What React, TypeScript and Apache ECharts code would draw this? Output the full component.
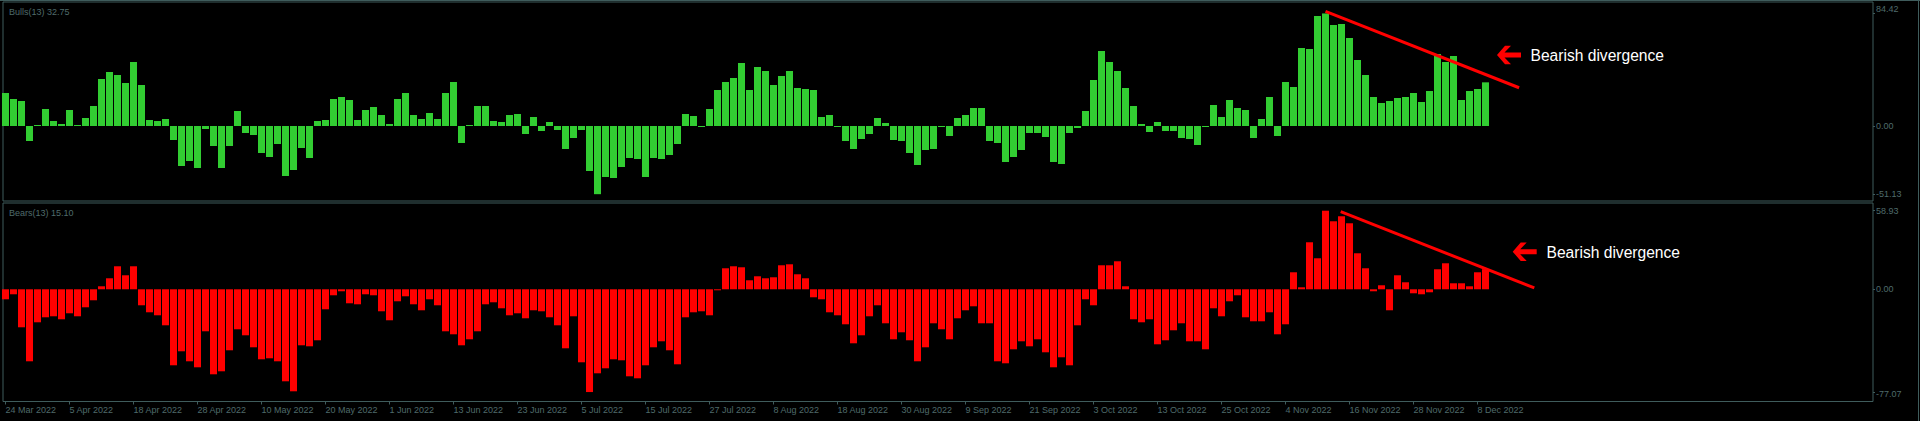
import { useEffect, useRef } from "react";
import * as echarts from "echarts";

// Bulls Power (13) values, one per trading day
const bulls = [
  24.75, 20.25, 18.75, -11.25, 0.75, 12.75, 3.75, 1.5, 12, 0.75,
  6, 15, 35.25, 40.5, 38.25, 32.25, 48, 30.75, 4.5, 3.75,
  5.25, -10.5, -30, -26.25, -31.5, -2.25, -15, -31.5, -15, 11.25,
  -5.25, -6.75, -20.25, -23.25, -13.5, -37.5, -33, -16.5, -24, 3.75,
  4.5, 20.25, 21.75, 19.5, 4.5, 12, 14.25, 8.25, 1.5, 20.25,
  24.75, 8.25, 5.25, 9.75, 5.25, 24.75, 33, -12.75, 0.75, 15,
  15, 3.75, 3, 8.25, 9, -6, 6.75, -3.75, 3, -3,
  -17.25, -9, -3, -33.75, -51.13, -38.25, -39, -30.75, -24, -24.75,
  -38.25, -24, -24.75, -21.75, -13.5, 9, 7.5, -0.75, 12.75, 27,
  33, 36, 47.25, 27, 44.25, 41.25, 30.75, 37.5, 41.25, 28.5,
  27.75, 27, 6.75, 8.25, -0.75, -11.25, -17.25, -9.75, -6, 6,
  2.25, -10.5, -11.25, -20.25, -29.25, -18, -17.25, -0.75, -7.5, 6,
  8.25, 13.5, 13.5, -11.25, -12.75, -27, -23.25, -18, -5.25, -5.25,
  -8.25, -27, -28.5, -5.25, -1.5, 11.25, 34.5, 56.25, 48, 41.25,
  28.5, 15, 1.5, -4.5, 3, -3.75, -3.75, -9, -9.75, -14.25,
  -0.75, 15.75, 6.75, 19.5, 13.5, 12, -9, 5.25, 21.75, -7.5,
  33, 29.25, 58.5, 57.75, 82.5, 84.42, 75.75, 76.5, 66, 49.5,
  38.25, 21.75, 17.25, 18.75, 21, 21.75, 24.75, 18, 26.25, 54,
  48, 52.5, 19.5, 26.25, 27.75, 32.75,
];

// Bears Power (13) values, one per trading day
const bears = [
  -7.5, -3.75, -28.5, -54, -24.75, -21, -20.25, -22.5, -18, -20.25,
  -13.5, -8.25, 2.25, 8.25, 17.25, 10.5, 17.25, -12, -17.25, -19.5,
  -27, -57, -46.5, -54, -58.5, -31.5, -63.75, -61.5, -45.75, -30,
  -34.5, -43.5, -52.5, -51.75, -54, -69, -76.5, -42, -42.75, -38.25,
  -15, -4.5, -1.5, -10.5, -11.25, -3.75, -4.5, -16.5, -23.25, -9,
  -5.25, -11.25, -15.75, -7.5, -12, -31.5, -33.75, -42, -37.5, -31.5,
  -11.25, -9.75, -14.25, -19.5, -18, -21.75, -15.75, -16.5, -21, -27,
  -44.25, -20.25, -54.75, -77.07, -63, -59.25, -52.5, -53.25, -65.25, -66.75,
  -57, -43.5, -39, -45.75, -56.25, -21, -17.25, -16.5, -19.5, -0.75,
  15.75, 17.25, 16.5, 6.75, 9.75, 8.25, 9, 18, 18.75, 11.25,
  8.25, -6, -7.5, -17.25, -19.5, -26.25, -40.5, -34.5, -20.25, -12,
  -25.5, -37.5, -32.25, -38.25, -54, -43.5, -25.5, -30, -37.5, -21.75,
  -15.75, -12.75, -25.5, -25.5, -54, -55.5, -45, -39, -42.75, -37.5,
  -47.25, -58.5, -51, -57, -27, -7.5, -12, 18, 18, 21,
  2.25, -22.5, -24.75, -22.5, -41.25, -38.25, -30.75, -25.5, -39, -39,
  -45, -14.25, -20.25, -9, -4.5, -21, -24, -24, -17.25, -33.75,
  -26.25, 12.75, 1.5, 35.25, 23.25, 58.93, 51, 54.75, 49.5, 27,
  15.75, -1.5, 3, -15.75, 10.5, 5.25, -3, -3.75, -2.25, 15,
  19.5, 4.5, 4.5, 2.25, 12.75, 15.1,
];

// Date labels, one every 8 bars starting at bar 0
const tickLabels = [
  "24 Mar 2022", "5 Apr 2022", "18 Apr 2022", "28 Apr 2022", "10 May 2022",
  "20 May 2022", "1 Jun 2022", "13 Jun 2022", "23 Jun 2022", "5 Jul 2022",
  "15 Jul 2022", "27 Jul 2022", "8 Aug 2022", "18 Aug 2022", "30 Aug 2022",
  "9 Sep 2022", "21 Sep 2022", "3 Oct 2022", "13 Oct 2022", "25 Oct 2022",
  "4 Nov 2022", "16 Nov 2022", "28 Nov 2022", "8 Dec 2022",
];
const tickEvery = 8;

const bullsScale = [84.42, 0, -51.13];
const bearsScale = [58.93, 0, -77.07];
const bullsTitle = "Bulls(13) 32.75";
const bearsTitle = "Bears(13) 15.10";
const annotationText = "Bearish divergence";

// Divergence trend lines (bar index, value)
const bullsTrend = [[165, 86], [189.2, 28.7]];
const bearsTrend = [[166.9, 58.2], [191.1, 1.0]];

const FONT = "'Liberation Sans', Arial, sans-serif";
const TXT = "#4f6b6b";
const LINE = "#3f5c5c";

function arrow(x: number, y: number) {
  return {
    type: "polygon",
    x,
    y,
    silent: true,
    shape: {
      points: [
        [0, 9.25], [8, 0], [14, 0], [7.5, 6.75], [24, 6.75],
        [24, 11.75], [7.5, 11.75], [14, 18.5], [8, 18.5],
      ],
    },
    style: { fill: "#ff0000" },
  };
}

export default function App() {
  const ref = useRef<HTMLDivElement>(null);

  useEffect(() => {
    document.body.style.margin = "0";
    document.body.style.background = "#000";
    const chart = echarts.init(ref.current!, null, { renderer: "svg" });

    const tickPositions = tickLabels.map((_, i) => i * tickEvery);
    const xMin = -0.3125;
    const xMax = 233.4375;

    const yLabelFmt = (scale: number[]) => (v: number) => {
      const s = v.toFixed(2);
      if (Math.abs(v - scale[0]) < 1e-6 && scale === bullsScale) return `{up|${s}}`;
      if (Math.abs(v - scale[2]) < 1e-6 && scale === bearsScale) return `{dn|${s}}`;
      return s;
    };
    const rich = {
      up: { padding: [0, 0, 8, 0], color: TXT, fontSize: 9, fontFamily: FONT },
      dn: { padding: [4, 0, 0, 0], color: TXT, fontSize: 9, fontFamily: FONT },
    };

    const yAxisBase = (gridIndex: number, min: number, max: number, scale: number[]) => ({
      type: "value",
      gridIndex,
      position: "right",
      min,
      max,
      axisLine: { show: false, onZero: false },
      splitLine: { show: false },
      axisTick: {
        show: true,
        customValues: scale,
        length: 2,
        lineStyle: { color: LINE },
      },
      axisLabel: {
        customValues: scale,
        formatter: yLabelFmt(scale),
        color: TXT,
        fontSize: 9,
        fontFamily: FONT,
        margin: 3,
        rich,
      },
    });

    const trendLine = (pts: number[][]) => ({
      symbol: ["none", "none"],
      silent: true,
      label: { show: false },
      lineStyle: { color: "#ff0000", width: 3, type: "solid" },
      data: [[{ coord: pts[0] }, { coord: pts[1] }]],
    });

    chart.setOption({
      animation: false,
      backgroundColor: "#000000",
      grid: [
        { left: 3, top: 2, width: 1870, height: 199, show: true, borderColor: LINE, borderWidth: 1 },
        { left: 3, top: 203, width: 1870, height: 198.5, show: true, borderColor: LINE, borderWidth: 1 },
      ],
      xAxis: [
        {
          type: "value",
          gridIndex: 0,
          min: xMin,
          max: xMax,
          show: false,
          axisLine: { show: false, onZero: false },
        },
        {
          type: "value",
          gridIndex: 1,
          min: xMin,
          max: xMax,
          position: "bottom",
          axisLine: { show: false, onZero: false },
          splitLine: { show: false },
          axisTick: {
            show: true,
            customValues: tickPositions,
            length: 3,
            lineStyle: { color: LINE },
          },
          axisLabel: {
            customValues: tickPositions,
            formatter: (v: number) => tickLabels[Math.round(v / tickEvery)] ?? "",
            color: TXT,
            fontSize: 9,
            fontFamily: FONT,
            align: "left",
            margin: 4,
          },
        },
      ],
      yAxis: [
        yAxisBase(0, -56.25, 93, bullsScale),
        yAxisBase(1, -84.15, 64.7, bearsScale),
      ],
      series: [
        {
          type: "bar",
          xAxisIndex: 0,
          yAxisIndex: 0,
          barWidth: 7,
          data: bulls.map((v, i) => [i, v]),
          itemStyle: { color: "#32cd32" },
          markLine: trendLine(bullsTrend),
        },
        {
          type: "bar",
          xAxisIndex: 1,
          yAxisIndex: 1,
          barWidth: 7,
          data: bears.map((v, i) => [i, v]),
          itemStyle: { color: "#ff0000" },
          markLine: trendLine(bearsTrend),
        },
      ],
      graphic: [
        {
          type: "text",
          x: 9,
          y: 12,
          silent: true,
          style: { text: bullsTitle, fill: TXT, fontSize: 9, fontFamily: FONT, verticalAlign: "middle" },
        },
        {
          type: "text",
          x: 9,
          y: 212.5,
          silent: true,
          style: { text: bearsTitle, fill: TXT, fontSize: 9, fontFamily: FONT, verticalAlign: "middle" },
        },
        {
          type: "text",
          x: 1530.5,
          y: 55,
          silent: true,
          style: { text: annotationText, fill: "#ffffff", fontSize: 15.6, fontFamily: FONT, verticalAlign: "middle" },
        },
        {
          type: "text",
          x: 1546.5,
          y: 252.3,
          silent: true,
          style: { text: annotationText, fill: "#ffffff", fontSize: 15.6, fontFamily: FONT, verticalAlign: "middle" },
        },
        arrow(1497, 45.7),
        arrow(1512.7, 242.4),
        {
          type: "line",
          silent: true,
          shape: { x1: 0, y1: 0.5, x2: 1920, y2: 0.5 },
          style: { stroke: LINE, lineWidth: 1 },
        },
        {
          type: "line",
          silent: true,
          shape: { x1: 1918.5, y1: 0, x2: 1918.5, y2: 421 },
          style: { stroke: LINE, lineWidth: 1 },
        },
      ],
    });

    return () => chart.dispose();
  }, []);

  return (
    <div
      ref={ref}
      style={{ position: "fixed", left: 0, top: 0, width: 1920, height: 421, background: "#000" }}
    />
  );
}
